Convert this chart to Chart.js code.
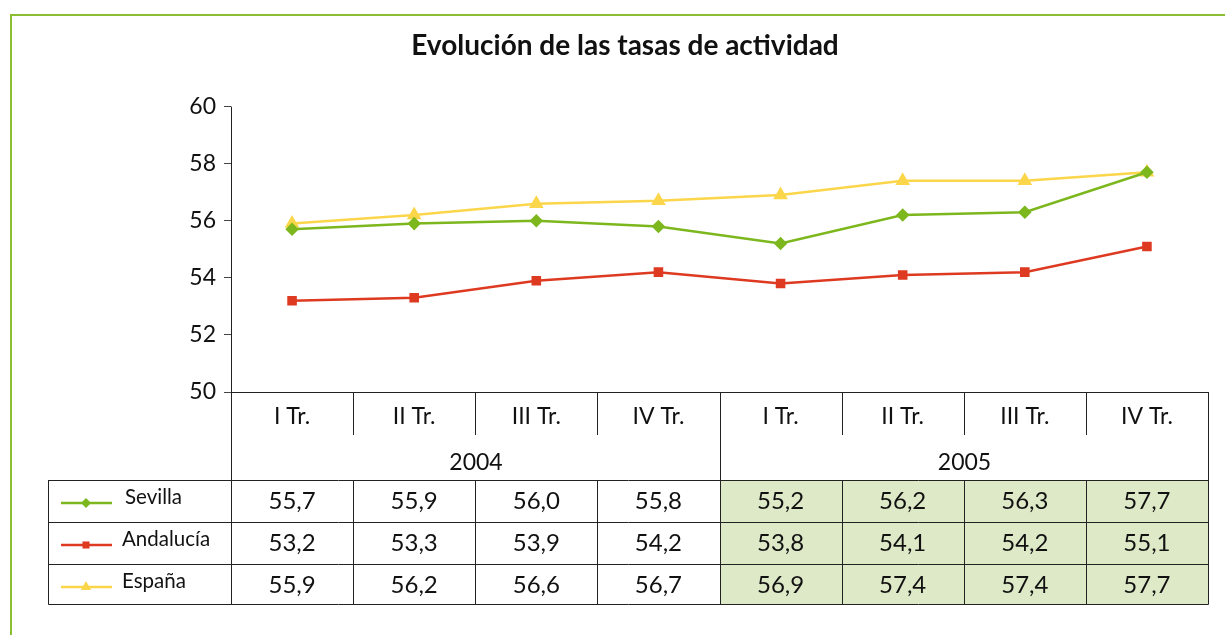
<!DOCTYPE html>
<html>
<head>
<meta charset="utf-8">
<script src="https://cdn.jsdelivr.net/npm/chart.js@4.4.0/dist/chart.umd.min.js"></script>
<style>
html, body { margin: 0; padding: 0; background: #fff; }
#wrap { width: 1225px; height: 635px; }
</style>
</head>
<body>
<div id="wrap"><canvas id="myChart" width="1225" height="635"></canvas></div>
<script>
const quarters = ["I Tr.", "II Tr.", "III Tr.", "IV Tr.", "I Tr.", "II Tr.", "III Tr.", "IV Tr."];
const years = ["2004", "2005"];
const sevilla = [55.7, 55.9, 56.0, 55.8, 55.2, 56.2, 56.3, 57.7];
const andalucia = [53.2, 53.3, 53.9, 54.2, 53.8, 54.1, 54.2, 55.1];
const espana = [55.9, 56.2, 56.6, 56.7, 56.9, 57.4, 57.4, 57.7];
const seriesNames = ["Sevilla", "Andalucía", "España"];

const FONT = "Lato, 'Open Sans', sans-serif";
const INK = "#111";
const LINE = "#222";

const data = {
    labels: quarters,
    datasets: [
        {
            label: seriesNames[0],
            data: sevilla,
            borderColor: "rgb(125,183,30)",
            backgroundColor: "rgb(125,183,30)",
            pointStyle: "rectRot",
            pointRadius: 5,
            borderWidth: 2.5,
        },
        {
            label: seriesNames[1],
            data: andalucia,
            borderColor: "rgb(222,58,34)",
            backgroundColor: "rgb(222,58,34)",
            pointStyle: "rect",
            pointRadius: 5,
            borderWidth: 2.5,
        },
        {
            label: seriesNames[2],
            data: espana,
            borderColor: "rgb(252,214,74)",
            backgroundColor: "rgb(252,214,74)",
            pointStyle: "triangle",
            pointRadius: 6,
            borderWidth: 2.5,
        },
    ],
};

// frame line in green, top and left
const framePlugin = {
    id: "frame",
    beforeDraw(chart) {
        const ctx = chart.ctx;
        ctx.save();
        ctx.strokeStyle = "rgb(140,190,50)";
        ctx.lineWidth = 2;
        ctx.beginPath();
        ctx.moveTo(11, 635);
        ctx.lineTo(11, 15);
        ctx.lineTo(1225, 15);
        ctx.stroke();
        ctx.restore();
    },
};

// category axis + data table under the plot
const tablePlugin = {
    id: "dataTable",
    afterDraw(chart) {
        const ctx = chart.ctx;
        const x = chart.scales.x;
        const area = chart.chartArea;
        const step = x.getPixelForValue(1) - x.getPixelForValue(0);
        const edge = i => Math.round(x.getPixelForValue(i) - step / 2) + 0.5;
        const n = quarters.length;
        const per = n / years.length;

        const yAxis = area.bottom;
        const qBottom = yAxis + 43;
        const rowTops = [480, 522, 564];
        const tableBottom = 604;
        const leftCol = 48.5;

        ctx.save();

        // shaded 2005 cells
        ctx.fillStyle = "rgb(222,233,199)";
        ctx.fillRect(edge(per), rowTops[0], edge(n) - edge(per), tableBottom - rowTops[0]);

        ctx.strokeStyle = LINE;
        ctx.lineWidth = 1;
        ctx.beginPath();
        // axis line
        ctx.moveTo(edge(0), Math.round(yAxis) + 0.5);
        ctx.lineTo(edge(n), Math.round(yAxis) + 0.5);
        // outer verticals
        ctx.moveTo(edge(0), area.top);
        ctx.lineTo(edge(0), tableBottom + 0.5);
        ctx.moveTo(edge(n), yAxis);
        ctx.lineTo(edge(n), tableBottom + 0.5);
        // quarter separators
        for (let i = 1; i < n; i++) {
            ctx.moveTo(edge(i), yAxis);
            ctx.lineTo(edge(i), i % per === 0 ? tableBottom : qBottom);
            if (i % per !== 0) {
                ctx.moveTo(edge(i), rowTops[0]);
                ctx.lineTo(edge(i), tableBottom);
            }
        }
        // row lines
        [rowTops[0], rowTops[1], rowTops[2], tableBottom].forEach(r => {
            ctx.moveTo(leftCol, r + 0.5);
            ctx.lineTo(edge(n), r + 0.5);
        });
        ctx.moveTo(leftCol, rowTops[0]);
        ctx.lineTo(leftCol, tableBottom + 0.5);
        ctx.stroke();

        // quarter labels
        ctx.fillStyle = INK;
        ctx.textAlign = "center";
        ctx.textBaseline = "middle";
        ctx.font = "23px " + FONT;
        quarters.forEach((q, i) => ctx.fillText(q, x.getPixelForValue(i), yAxis + 25));

        // year labels
        years.forEach((yr, k) => {
            const cx = (edge(k * per) + edge((k + 1) * per)) / 2;
            ctx.fillText(yr, cx, 463);
        });

        // values
        ctx.font = "24px " + FONT;
        const all = [sevilla, andalucia, espana];
        all.forEach((vals, r) => {
            const cy = rowTops[r] + 21;
            vals.forEach((v, i) => {
                ctx.fillText(v.toFixed(1).replace(".", ","), x.getPixelForValue(i), cy);
            });
        });

        // legend in first column
        ctx.textAlign = "left";
        ctx.font = "20.5px " + FONT;
        chart.data.datasets.forEach((ds, r) => {
            const cy = rowTops[r] + 23;
            ctx.strokeStyle = ds.borderColor;
            ctx.lineWidth = 2.5;
            ctx.beginPath();
            ctx.moveTo(61, cy);
            ctx.lineTo(112, cy);
            ctx.stroke();
            ctx.fillStyle = ds.backgroundColor;
            Chart.helpers.drawPoint(ctx, {
                pointStyle: ds.pointStyle,
                radius: ds.pointRadius,
                rotation: 0,
                borderWidth: 0,
            }, 86, cy);
            ctx.fillStyle = INK;
            ctx.fillText(ds.label, r === 0 ? 125 : 122, rowTops[r] + 17);
        });

        ctx.restore();
    },
};

const config = {
    type: "line",
    data: data,
    options: {
        responsive: false,
        animation: false,
        layout: { padding: { left: 42, right: 17, top: 0, bottom: 243 } },
        plugins: {
            legend: { display: false },
            tooltip: { enabled: false },
            title: {
                display: true,
                text: "Evolución de las tasas de actividad",
                color: INK,
                font: { family: FONT, size: 28, weight: "bold" },
                padding: { top: 29, bottom: 44 },
            },
        },
        scales: {
            x: {
                display: false,
                offset: true,
            },
            y: {
                min: 50,
                max: 60,
                afterFit(scale) { scale.width = 189; },
                border: { display: false },
                grid: { drawOnChartArea: false, tickLength: 7, color: "#444" },
                ticks: {
                    stepSize: 2,
                    color: INK,
                    padding: 8,
                    font: { family: FONT, size: 23 },
                },
            },
        },
    },
    plugins: [framePlugin, tablePlugin],
};

const myChart = new Chart(document.getElementById("myChart"), config);
</script>
</body>
</html>
